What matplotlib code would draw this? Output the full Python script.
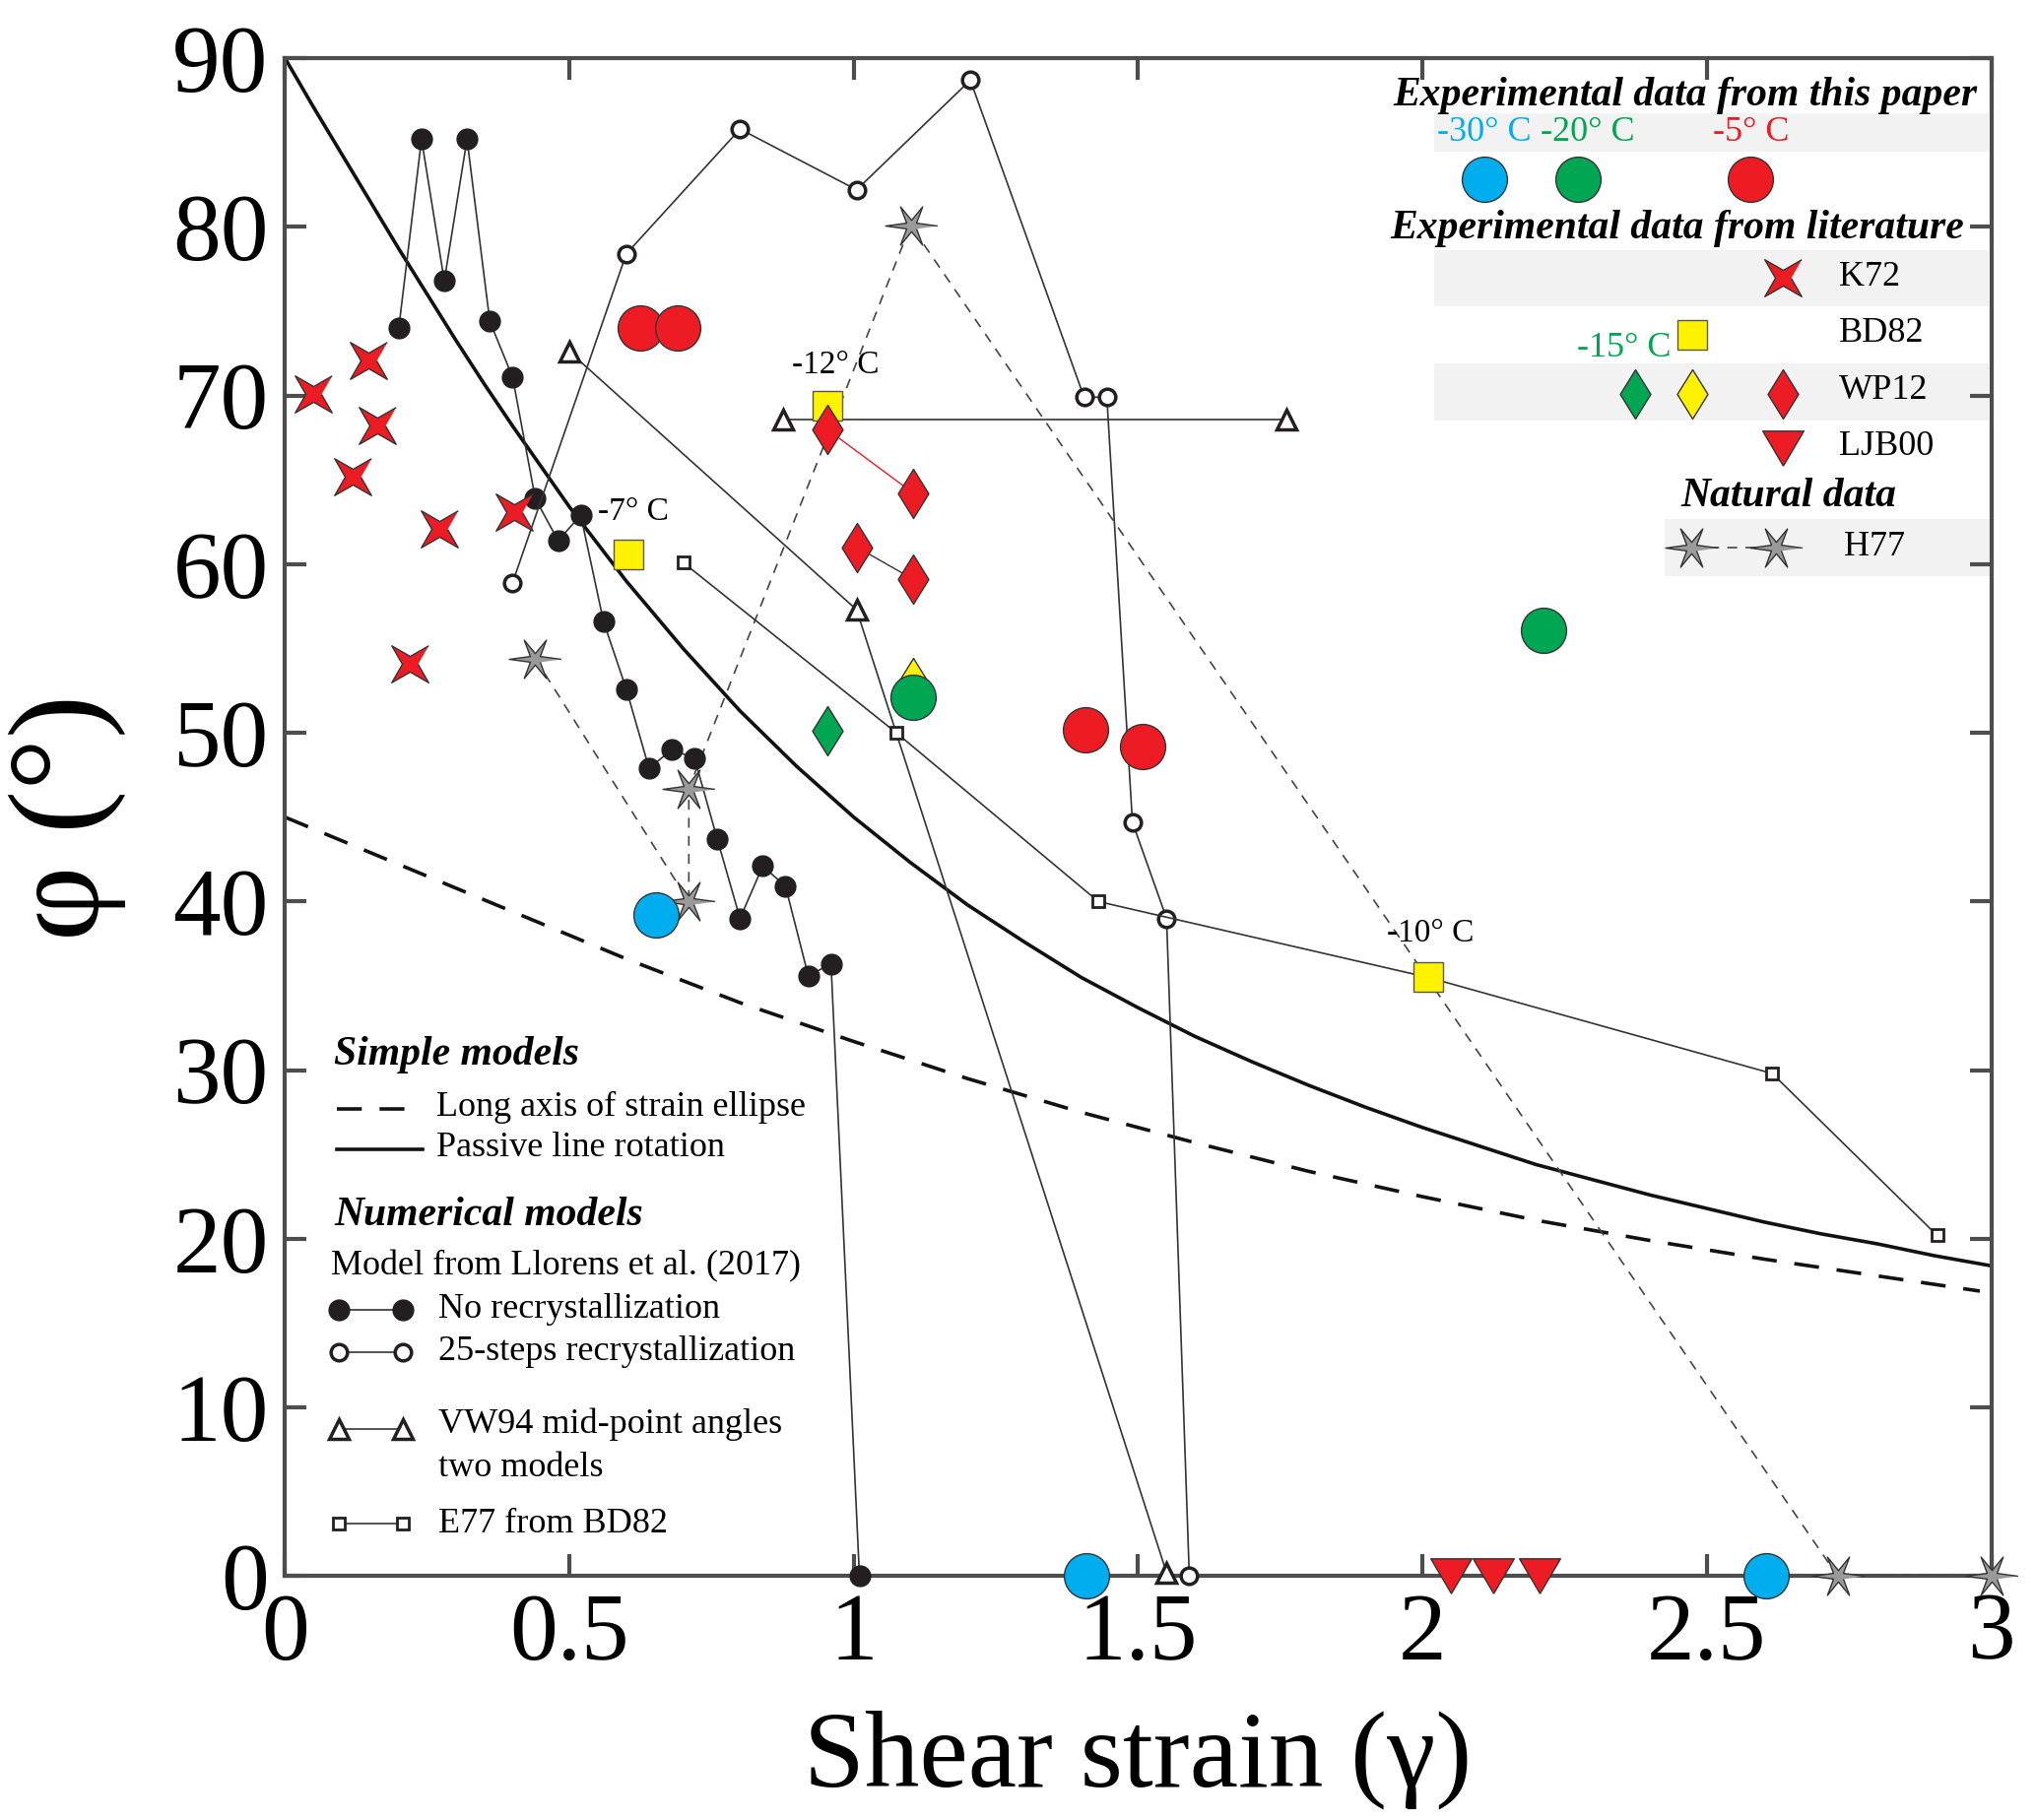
import numpy as np
import matplotlib
matplotlib.use("Agg")
import matplotlib.pyplot as plt
from matplotlib.patches import Rectangle

plt.rcParams['font.family'] = ['Liberation Serif', 'DejaVu Serif']

# ---- data ----
# simple models
passive_x = [0, 0.05, 0.1, 0.15, 0.2, 0.25, 0.3, 0.35, 0.4, 0.45, 0.5, 0.6, 0.7, 0.8, 0.9, 1.0, 1.1, 1.2,
             1.3, 1.4, 1.5, 1.6, 1.7, 1.8, 1.9, 2.0, 2.1, 2.2, 2.3, 2.4, 2.5, 2.6, 2.7, 2.8, 2.9, 3.0]
passive_y = [90, 87.1, 84.3, 81.5, 78.7, 76.0, 73.3, 70.7, 68.2, 65.8, 63.4, 59.0, 55.0, 51.3, 48.0, 45.0,
             42.3, 39.8, 37.6, 35.5, 33.7, 32.0, 30.5, 29.1, 27.8, 26.6, 25.5, 24.4, 23.5, 22.6, 21.8,
             21.0, 20.3, 19.7, 19.0, 18.4]
ellipse_x = [0, 0.2, 0.4, 0.6, 0.8, 1.0, 1.2, 1.4, 1.6, 1.8, 2.0, 2.2, 2.4, 2.6, 2.8, 2.98]
ellipse_y = [45, 42.2, 39.4, 36.6, 34.0, 31.7, 29.5, 27.5, 25.7, 24.0, 22.5, 21.1, 19.9, 18.8, 17.8, 16.9]

# Llorens et al. (2017), no recrystallization
norx_x = [0.20, 0.24, 0.28, 0.32, 0.36, 0.40, 0.44, 0.48, 0.52, 0.56, 0.60, 0.64, 0.68, 0.72,
          0.76, 0.80, 0.84, 0.88, 0.92, 0.96, 1.01]
norx_y = [74.0, 85.2, 76.8, 85.2, 74.4, 71.1, 63.9, 61.4, 62.9, 56.6, 52.6, 47.9, 49.0, 48.5,
          43.7, 39.0, 42.1, 40.9, 35.6, 36.3, 0.0]
# 25-steps recrystallization
rx25_x = [0.40, 0.60, 0.80, 1.005, 1.205, 1.405, 1.445, 1.49, 1.55, 1.59]
rx25_y = [58.9, 78.4, 85.8, 82.2, 88.7, 69.9, 69.9, 44.7, 39.0, 0.0]
# VW94 mid-point angles, two models
vw_a_x = [0.50, 1.005, 1.55]
vw_a_y = [72.6, 57.3, 0.2]
vw_b_x = [0.875, 1.76]
vw_b_y = [68.6, 68.6]
# E77 from BD82
e77_x = [0.70, 1.075, 1.43, 2.01, 2.615, 2.905]
e77_y = [60.1, 50.0, 40.0, 35.5, 29.8, 20.2]

# H77 natural data
h77_x = [0.44, 0.71, 0.71, 1.10, 2.73, 3.0]
h77_y = [54.4, 40.0, 46.7, 80.1, 0.0, 0.0]

# K72
k72_x = [0.05, 0.147, 0.163, 0.118, 0.271, 0.403, 0.22]
k72_y = [70.1, 72.1, 68.2, 65.2, 62.1, 63.1, 54.1]
# BD82
bd82_x = [0.603, 0.953, 2.01]
bd82_y = [60.6, 69.4, 35.5]
bd82_labels = ['-7° C', '-12° C', '-10° C']
# WP12
wp12_red_x = [0.953, 1.105, 1.006, 1.105]
wp12_red_y = [68.0, 64.2, 61.0, 59.1]
wp12_green_x = [0.954]
wp12_green_y = [50.1]
wp12_yellow_x = [1.105]
wp12_yellow_y = [53.0]
# LJB00
ljb_x = [2.05, 2.125, 2.205]
ljb_y = [0.0, 0.0, 0.0]

# this paper
exp_m5_x = [0.624, 0.691, 1.408, 1.508]
exp_m5_y = [74.0, 74.0, 50.2, 49.2]
exp_m20_x = [1.105, 2.212]
exp_m20_y = [52.1, 56.1]
exp_m30_x = [0.652, 1.409, 2.604]
exp_m30_y = [39.2, 0.0, 0.0]

CYAN = '#00AEEF'
GREEN = '#00A651'
RED = '#ED1C24'
YELLOW = '#FFF200'
BAND = '#F2F2F2'
LINE = '#333333'

# marker shapes
ang = np.deg2rad(np.arange(8) * 45 + 45)
rad = np.array([1, 0.3] * 4)
k72_marker = np.column_stack([rad * np.cos(ang), rad * np.sin(ang)])

ang6 = np.deg2rad(np.arange(12) * 30)
rad6 = np.array([1.0, 0.22, 0.85, 0.22, 0.85, 0.22] * 2)
h77_marker = np.column_stack([rad6 * np.cos(ang6), rad6 * np.sin(ang6)])

diamond = [(0, 1), (0.62, 0), (0, -1), (-0.62, 0), (0, 1)]
tri_down = [(0, -0.85), (-1, 0.85), (1, 0.85), (0, -0.85)]

fig = plt.figure(figsize=(20.67, 18.48), dpi=100)
ax = fig.add_axes([0.140, 0.134, 0.838, 0.834])
ax.set_xlim(0, 3)
ax.set_ylim(0, 90)

# simple models
ax.plot(passive_x, passive_y, color='#111111', lw=2.6, zorder=2)
ax.plot(ellipse_x, ellipse_y, color='#111111', lw=2.6, dashes=(7, 5), zorder=2)

# numerical models
ax.plot(norx_x, norx_y, color=LINE, lw=1.2, marker='o', ms=15, mfc='#231f20', mec='#231f20', zorder=4,
        clip_on=False)
ax.plot(rx25_x, rx25_y, color=LINE, lw=1.2, marker='o', ms=12, mfc='white', mec='#231f20', mew=2.5, zorder=4,
        clip_on=False)
ax.plot(vw_a_x, vw_a_y, color=LINE, lw=1.2, marker='^', ms=15, mfc='white', mec='#231f20', mew=2.5, zorder=4,
        clip_on=False)
ax.plot(vw_b_x, vw_b_y, color=LINE, lw=1.2, marker='^', ms=15, mfc='white', mec='#231f20', mew=2.5, zorder=4)
ax.plot(e77_x, e77_y, color=LINE, lw=1.2, marker='s', ms=9, mfc='white', mec='#231f20', mew=2, zorder=4)

# natural data
ax.plot(h77_x, h77_y, color='#444444', lw=1.2, dashes=(6, 5), zorder=3)
ax.plot(h77_x, h77_y, ls='none', marker=h77_marker, ms=38, mfc='#9a9a9a', mec='#333333', mew=1, zorder=5,
        clip_on=False)

# literature
ax.plot(k72_x, k72_y, ls='none', marker=k72_marker, ms=27, mfc=RED, mec='#333333', mew=1, zorder=5)
ax.plot(wp12_red_x[:2], wp12_red_y[:2], color=RED, lw=1, zorder=3)
ax.plot(wp12_red_x[2:], wp12_red_y[2:], color=LINE, lw=1, zorder=3)
ax.plot(wp12_yellow_x, wp12_yellow_y, ls='none', marker=diamond, ms=36, mfc=YELLOW, mec='#333333', mew=1, zorder=5)
ax.plot(bd82_x, bd82_y, ls='none', marker='s', ms=21, mfc=YELLOW, mec='#555555', mew=1, zorder=6)
ax.plot(wp12_red_x, wp12_red_y, ls='none', marker=diamond, ms=36, mfc=RED, mec='#333333', mew=1, zorder=6)
ax.plot(wp12_green_x, wp12_green_y, ls='none', marker=diamond, ms=36, mfc=GREEN, mec='#333333', mew=1, zorder=6)
ax.plot(ljb_x, ljb_y, ls='none', marker=tri_down, ms=30, mfc=RED, mec='#333333', mew=1, zorder=6, clip_on=False)
for bx, by, lab, dx, dy in zip(bd82_x, bd82_y, bd82_labels, [-0.053, -0.062, -0.073], [2.5, 2.4, 2.6]):
    ax.text(bx + dx, by + dy, lab, fontsize=24, ha='left', va='center', zorder=7)

# this paper
ax.plot(exp_m5_x, exp_m5_y, ls='none', marker='o', ms=33, mfc=RED, mec='#333333', mew=1, zorder=7)
ax.plot(exp_m20_x, exp_m20_y, ls='none', marker='o', ms=33, mfc=GREEN, mec='#333333', mew=1, zorder=7)
ax.plot(exp_m30_x, exp_m30_y, ls='none', marker='o', ms=33, mfc=CYAN, mec='#333333', mew=1, zorder=7,
        clip_on=False)

# ---- legend, top right ----
for x0, x1, y0, y1 in [(2.02, 2.995, 84.45, 86.75), (2.02, 2.995, 75.3, 78.6),
                       (2.02, 2.995, 68.5, 71.9), (2.426, 3.0, 59.3, 62.7)]:
    ax.add_patch(Rectangle((x0, y0), x1 - x0, y1 - y0, facecolor=BAND, edgecolor='none', zorder=1))

hfont = dict(fontsize=30, fontweight='bold', fontstyle='italic', va='center', zorder=8)
ax.text(2.976, 87.8, 'Experimental data from this paper', ha='right', **hfont)
ax.text(2.953, 79.9, 'Experimental data from literature', ha='right', **hfont)
ax.text(2.833, 64.0, 'Natural data', ha='right', **hfont)

ax.text(2.025, 85.6, '-30° C', color=CYAN, fontsize=26, va='center', zorder=8)
ax.text(2.208, 85.6, '-20° C', color=GREEN, fontsize=26, va='center', zorder=8)
ax.text(2.510, 85.6, '-5° C', color=RED, fontsize=26, va='center', zorder=8)
ax.plot([2.109], [82.8], ls='none', marker='o', ms=33, mfc=CYAN, mec='#333333', mew=1, zorder=8)
ax.plot([2.274], [82.8], ls='none', marker='o', ms=33, mfc=GREEN, mec='#333333', mew=1, zorder=8)
ax.plot([2.576], [82.8], ls='none', marker='o', ms=33, mfc=RED, mec='#333333', mew=1, zorder=8)

ax.plot([2.634], [77.0], ls='none', marker=k72_marker, ms=27, mfc=RED, mec='#333333', mew=1, zorder=8)
ax.text(2.733, 77.0, 'K72', fontsize=26, va='center', zorder=8)
ax.plot([2.475], [73.6], ls='none', marker='s', ms=21, mfc=YELLOW, mec='#555555', mew=1, zorder=8)
ax.text(2.437, 72.8, '-15° C', color=GREEN, fontsize=26, ha='right', va='center', zorder=8)
ax.text(2.733, 73.7, 'BD82', fontsize=26, va='center', zorder=8)
ax.plot([2.374], [70.1], ls='none', marker=diamond, ms=36, mfc=GREEN, mec='#333333', mew=1, zorder=8)
ax.plot([2.475], [70.1], ls='none', marker=diamond, ms=36, mfc=YELLOW, mec='#333333', mew=1, zorder=8)
ax.plot([2.634], [70.1], ls='none', marker=diamond, ms=36, mfc=RED, mec='#333333', mew=1, zorder=8)
ax.text(2.733, 70.3, 'WP12', fontsize=26, va='center', zorder=8)
ax.plot([2.634], [66.9], ls='none', marker=tri_down, ms=30, mfc=RED, mec='#333333', mew=1, zorder=8)
ax.text(2.733, 67.0, 'LJB00', fontsize=26, va='center', zorder=8)
ax.plot([2.472, 2.621], [61.0, 61.0], color='#444444', lw=1.2, dashes=(6, 5), zorder=8)
ax.plot([2.472, 2.621], [61.0, 61.0], ls='none', marker=h77_marker, ms=38, mfc='#9a9a9a', mec='#333333',
        mew=1, zorder=8)
ax.text(2.741, 61.0, 'H77', fontsize=26, va='center', zorder=8)

# ---- legend, bottom left ----
ax.text(0.086, 30.9, 'Simple models', ha='left', **hfont)
ax.plot([0.092, 0.223], [27.7, 27.7], color='#111111', lw=2.6, dashes=(7, 5), zorder=8)
ax.text(0.266, 27.8, 'Long axis of strain ellipse', fontsize=26, va='center', zorder=8)
ax.plot([0.092, 0.241], [25.3, 25.3], color='#111111', lw=2.6, zorder=8)
ax.text(0.266, 25.4, 'Passive line rotation', fontsize=26, va='center', zorder=8)
ax.text(0.086, 21.4, 'Numerical models', ha='left', **hfont)
ax.text(0.080, 18.4, 'Model from Llorens et al. (2017)', fontsize=26, va='center', zorder=8)
ax.plot([0.094, 0.208], [15.8, 15.8], color=LINE, lw=1.2, marker='o', ms=15, mfc='#231f20', mec='#231f20', zorder=8)
ax.text(0.270, 15.8, 'No recrystallization', fontsize=26, va='center', zorder=8)
ax.plot([0.094, 0.208], [13.3, 13.3], color=LINE, lw=1.2, marker='o', ms=12, mfc='white', mec='#231f20',
        mew=2.5, zorder=8)
ax.text(0.270, 13.3, '25-steps recrystallization', fontsize=26, va='center', zorder=8)
ax.plot([0.094, 0.208], [8.7, 8.7], color=LINE, lw=1.2, marker='^', ms=15, mfc='white', mec='#231f20',
        mew=2.5, zorder=8)
ax.text(0.270, 9.0, 'VW94 mid-point angles', fontsize=26, va='center', zorder=8)
ax.text(0.270, 6.4, 'two models', fontsize=26, va='center', zorder=8)
ax.plot([0.094, 0.208], [3.1, 3.1], color=LINE, lw=1.2, marker='s', ms=9, mfc='white', mec='#231f20',
        mew=2, zorder=8)
ax.text(0.270, 3.1, 'E77 from BD82', fontsize=26, va='center', zorder=8)

# ---- axes styling ----
for sp in ax.spines.values():
    sp.set_color('#4d4d4d')
    sp.set_linewidth(3)
ax.set_xticks([0, 0.5, 1, 1.5, 2, 2.5, 3])
ax.set_xticklabels(['0', '0.5', '1', '1.5', '2', '2.5', '3'])
ax.set_yticks(np.arange(0, 91, 10))
ax.tick_params(direction='in', length=16, width=3, color='#4d4d4d', labelsize=70,
               top=True, right=True, pad=12)
ax.set_xlabel('Shear strain (γ)', fontsize=80, labelpad=22)
ax.set_ylabel('φ (°)', fontsize=95, labelpad=34)

fig.savefig('out.png', dpi=100)
